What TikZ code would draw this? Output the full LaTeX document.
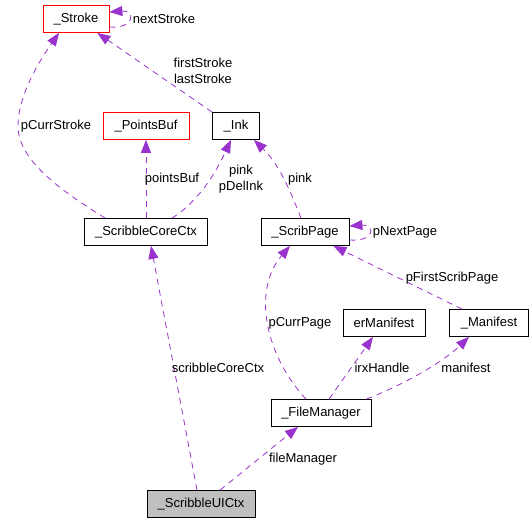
\documentclass[tikz,border=0pt]{standalone}
\usepackage{fontspec}
\setmainfont{Liberation Sans}
\usetikzlibrary{arrows.meta}
\usetikzlibrary{calc}
\usetikzlibrary{positioning}
\definecolor{edgepurple}{HTML}{9A32CD}
\tikzset{
  cls/.style={
    draw=black, line width=0.8pt,
    minimum height=27pt, inner sep=0,
    font=\fontsize{13}{16}\selectfont
  },
  hotcls/.style={cls, draw=red},
  rootcls/.style={cls, fill=black!25},
  lbl/.style={font=\fontsize{13}{16}\selectfont, align=center, inner sep=0},
  uses/.style={draw=edgepurple, line width=0.8pt, dash pattern=on 6pt off 5pt,
    -{Triangle[length=13pt, width=10pt, fill=edgepurple]}}
}

\begin{document}
\begin{tikzpicture}[x=1pt, y=-1pt]
  \useasboundingbox (0,0) rectangle (532,523);

  \node[hotcls, minimum width=66pt] (stroke) at (76,19) {\_Stroke};
  \node[hotcls, minimum width=86pt] (pbuf) at (146,126) {\_PointsBuf};
  \node[cls, minimum width=47pt] (ink) at (236,126) {\_Ink};
  \node[cls, minimum width=123pt] (core) at (146,232) {\_ScribbleCoreCtx};
  \node[cls, minimum width=88pt] (page) at (305,232) {\_ScribPage};
  \node[cls, minimum width=82pt] (ermf) at (384,323) {erManifest};
  \node[cls, minimum width=79pt] (mf) at (489,323) {\_Manifest};
  \node[cls, minimum width=100pt] (fm) at (321,413) {\_FileManager};
  \node[rootcls, minimum width=108pt] (ui) at (201,504) {\_ScribbleUICtx};

  \draw[uses] ($(stroke.east)+(0,8)$) .. controls +(26,2) and +(26,-2) .. ($(stroke.east)+(0,-7)$);
  \draw[uses] (ink.north west) -- ($(stroke.south east)+(-12,0)$);
  \draw[uses] ($(core.north west)+(21,0)$) .. controls (60,190) and (18,160) .. (18,126)
    .. controls (18,95) and (40,60) .. ($(stroke.south)+(-17,0)$);
  \draw[uses] (core) -- (pbuf);
  \draw[uses] ($(core.north)+(26,0)$) .. controls (200,200) and (216,172) .. ($(ink.south)+(-5,0)$);
  \draw[uses] ($(page.north)+(-4,0)$) .. controls (292,195) and (280,165) .. ($(ink.south east)+(-6,0)$);
  \draw[uses] ($(page.east)+(0,8)$) .. controls +(26,2) and +(26,-2) .. ($(page.east)+(0,-6)$);
  \draw[uses] ($(mf.north)+(-27,0)$) -- ($(page.south east)+(-16,0)$);
  \draw[uses] ($(fm.north)+(-15,0)$) .. controls (265,355) and (252,290) .. ($(page.south)+(-15,0)$);
  \draw[uses] ($(fm.north)+(8,0)$) -- ($(ermf.south)+(-11,0)$);
  \draw[uses] ($(fm.north east)+(-5,0)$) .. controls (410,382) and (445,360) .. ($(mf.south)+(-20,0)$);
  \draw[uses] ($(ui.north)+(19,0)$) -- ($(fm.south)+(-23,0)$);
  \draw[uses] ($(ui.north)+(-4,0)$) -- ($(core.south)+(5,0)$);

  \node[lbl] (lnext) at (164,19) {nextStroke};
  \node[lbl] (lfirst) at (203,71) {firstStroke\\lastStroke};
  \node[lbl] (lcurrs) at (56,126) {pCurrStroke};
  \node[lbl] (lpbuf) at (172,179) {pointsBuf};
  \node[lbl] (lpdel) at (241,179) {pink\\pDelInk};
  \node[lbl] (lpink) at (300,179) {pink};
  \node[lbl] (lnextp) at (405,232) {pNextPage};
  \node[lbl] (lfirstp) at (452,278) {pFirstScribPage};
  \node[lbl] (lcurrp) at (300,323) {pCurrPage};
  \node[lbl] (lcore) at (218,368) {scribbleCoreCtx};
  \node[lbl] (lirx) at (382,368) {irxHandle};
  \node[lbl] (lmf) at (466,368) {manifest};
  \node[lbl] (lfm) at (303,459) {fileManager};
\end{tikzpicture}
\end{document}
